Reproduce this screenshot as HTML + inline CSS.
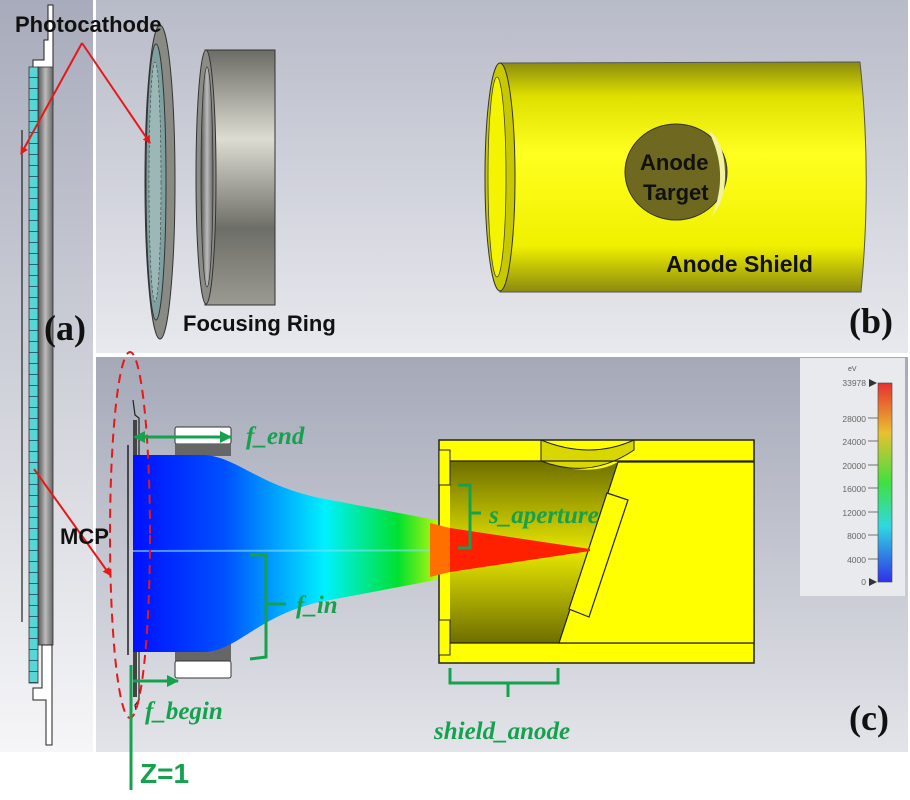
<!DOCTYPE html>
<html><head><meta charset="utf-8"><style>
html,body{margin:0;padding:0;background:#fff;}
svg{display:block;}
.lb{font-family:"Liberation Sans",sans-serif;font-weight:bold;fill:#111;}
.sr{font-family:"Liberation Serif",serif;font-weight:bold;fill:#111;}
.gi{font-family:"Liberation Serif",serif;font-weight:bold;font-style:italic;fill:#16a14e;}
</style></head><body>
<svg width="910" height="800" viewBox="0 0 910 800" xmlns="http://www.w3.org/2000/svg">
<defs>
<linearGradient id="ga" x1="0" y1="0" x2="0" y2="1"><stop offset="0" stop-color="#a8abbb"/><stop offset="0.5" stop-color="#cfd1d9"/><stop offset="1" stop-color="#f6f6f8"/></linearGradient>
<linearGradient id="gb" x1="0" y1="0" x2="0" y2="1"><stop offset="0" stop-color="#b8bbc8"/><stop offset="1" stop-color="#e8e9ee"/></linearGradient>
<linearGradient id="gc" x1="0" y1="0" x2="0" y2="1"><stop offset="0" stop-color="#a5a9b8"/><stop offset="1" stop-color="#e3e4e9"/></linearGradient>
<linearGradient id="beam" x1="133" y1="0" x2="590" y2="0" gradientUnits="userSpaceOnUse">
<stop offset="0" stop-color="#0010ff"/><stop offset="0.2" stop-color="#0050ff"/><stop offset="0.42" stop-color="#00f0ff"/><stop offset="0.58" stop-color="#00e030"/><stop offset="0.7" stop-color="#ffff00"/><stop offset="0.8" stop-color="#ff8000"/><stop offset="1" stop-color="#ff0000"/></linearGradient>
<linearGradient id="cyl" x1="0" y1="0" x2="0" y2="1"><stop offset="0" stop-color="#8a8a10"/><stop offset="0.15" stop-color="#e0e000"/><stop offset="0.4" stop-color="#ffff20"/><stop offset="0.8" stop-color="#f0f000"/><stop offset="1" stop-color="#8a8a10"/></linearGradient>
<linearGradient id="ring" x1="0" y1="0" x2="0" y2="1"><stop offset="0" stop-color="#6c6c66"/><stop offset="0.35" stop-color="#dcdcd2"/><stop offset="0.7" stop-color="#6e6e68"/><stop offset="1" stop-color="#9a9a92"/></linearGradient>
<linearGradient id="inner" x1="0" y1="0" x2="0" y2="1"><stop offset="0" stop-color="#6e6e00"/><stop offset="0.5" stop-color="#e6e600"/><stop offset="1" stop-color="#6e6e00"/></linearGradient>
<linearGradient id="cb" x1="0" y1="0" x2="0" y2="1"><stop offset="0" stop-color="#e83030"/><stop offset="0.25" stop-color="#e8c030"/><stop offset="0.5" stop-color="#40e040"/><stop offset="0.72" stop-color="#30d8e0"/><stop offset="1" stop-color="#3030e8"/></linearGradient>
<linearGradient id="gray" x1="0" y1="0" x2="1" y2="0"><stop offset="0" stop-color="#555"/><stop offset="0.5" stop-color="#bbb"/><stop offset="1" stop-color="#666"/></linearGradient>
<pattern id="tk" width="9" height="11" patternUnits="userSpaceOnUse"><rect width="9" height="11" fill="#58d6d6"/><line x1="0" y1="0.5" x2="9" y2="0.5" stroke="#246" stroke-width="0.8"/></pattern>
<marker id="ar" markerWidth="8" markerHeight="8" refX="7" refY="4" orient="auto" markerUnits="userSpaceOnUse"><path d="M0,0 L8,4 L0,8z" fill="#e81818"/></marker>
<marker id="ag" markerWidth="12" markerHeight="12" refX="11" refY="6" orient="auto" markerUnits="userSpaceOnUse"><path d="M0,0 L12,6 L0,12z" fill="#16a14e"/></marker>
</defs>
<!-- backgrounds -->
<rect x="0" y="0" width="93" height="752" fill="url(#ga)"/>
<rect x="96" y="0" width="812" height="353" fill="url(#gb)"/>
<rect x="96" y="357" width="812" height="395" fill="url(#gc)"/>

<!-- panel a -->
<path d="M48,5 L53,5 L53,105 L43,105 L43,98 L33,98 L33,60 L44,60 L44,40 L48,40z" fill="#fff" stroke="#222" stroke-width="1"/>
<rect x="38" y="67" width="15" height="578" fill="url(#gray)" stroke="#333" stroke-width="0.8"/>
<rect x="29" y="67" width="9" height="616" fill="url(#tk)" stroke="#333" stroke-width="0.8"/>
<line x1="22" y1="130" x2="22" y2="622" stroke="#222" stroke-width="1.2"/>
<path d="M42,645 L52,645 L52,745 L46,745 L46,700 L33,700 L33,688 L42,688z" fill="#fff" stroke="#222" stroke-width="1"/>
<text x="44" y="340" class="sr" font-size="36">(a)</text>

<!-- panel b: focusing ring parts -->
<ellipse cx="160" cy="182" rx="15" ry="157" fill="#8a8a84" stroke="#333" stroke-width="1"/>
<ellipse cx="156" cy="182" rx="10" ry="138" fill="#7fa0a0" stroke="#333" stroke-width="1"/>
<ellipse cx="155" cy="182" rx="6" ry="120" fill="#9bb8b6" stroke="#444" stroke-width="0.6" stroke-dasharray="3 2"/>
<rect x="205" y="50" width="70" height="255" fill="url(#ring)" stroke="#333" stroke-width="1"/>
<ellipse cx="206" cy="177" rx="10" ry="127" fill="#8c8c86" stroke="#333" stroke-width="1"/>
<ellipse cx="207" cy="177" rx="6" ry="110" fill="url(#gray)" stroke="#333" stroke-width="0.8"/>

<!-- anode cylinder -->
<path d="M500,63 L860,62 Q872,177 861,292 L500,292z" fill="url(#cyl)" stroke="#555" stroke-width="1"/>
<ellipse cx="500" cy="177" rx="15" ry="114" fill="#c8c800" stroke="#333" stroke-width="1"/>
<ellipse cx="497" cy="177" rx="9" ry="100" fill="#f4f400" stroke="#444" stroke-width="0.8"/>
<ellipse cx="676" cy="172" rx="51" ry="48" fill="#6e6820" stroke="#333" stroke-width="1"/>
<path d="M708,130 Q730,172 712,216 Q726,200 725,172 Q724,140 708,130z" fill="#f2f2a0"/>
<text x="640" y="170" class="lb" font-size="22">Anode</text>
<text x="643" y="200" class="lb" font-size="22">Target</text>
<text x="666" y="272" class="lb" font-size="23">Anode Shield</text>
<text x="183" y="331" class="lb" font-size="22">Focusing Ring</text>
<text x="849" y="333" class="sr" font-size="36">(b)</text>

<!-- panel c -->
<path d="M133,420 L137,420 L137,697 L133,697z" fill="#444"/>
<line x1="128" y1="445" x2="128" y2="655" stroke="#222" stroke-width="1.5"/>
<path d="M133,400 L135,415 L139,418 L139,700 L135,705 L136,710" fill="none" stroke="#222" stroke-width="1.2"/>
<rect x="175" y="427" width="56" height="17" rx="2" fill="#fff" stroke="#333"/>
<rect x="175" y="444" width="56" height="12" fill="#666"/>
<rect x="175" y="643" width="56" height="18" fill="#666"/>
<rect x="175" y="661" width="56" height="17" rx="2" fill="#fff" stroke="#333"/>
<path d="M133,455 L205,455 C240,458 260,488 330,500 L590,549 L590,551 L330,600 C260,612 240,650 205,652 L133,652z" fill="url(#beam)"/>
<path d="M133,551 L590,550" stroke="#80e0ff" stroke-width="2" opacity="0.6"/>

<!-- anode shield section -->
<rect x="439" y="440" width="315" height="223" fill="#ffff00" stroke="#222" stroke-width="1.5"/>
<path d="M450,461 L541,461 Q590,478 618,462 L559,643 L450,643z" fill="url(#inner)"/>
<path d="M541,440 L541,461 Q590,480 634,450 L634,440 Q590,460 541,440z" fill="#d8d800" stroke="#222" stroke-width="1"/>
<line x1="439" y1="461" x2="754" y2="461" stroke="#222" stroke-width="1.2"/>
<line x1="439" y1="643" x2="754" y2="643" stroke="#222" stroke-width="1.2"/>
<path d="M618,462 L754,462 L754,643 L559,643z" fill="#ffff00" stroke="#222" stroke-width="1.2"/>
<path d="M607,493 L628,500 L589,617 L569,609z" fill="#ffff00" stroke="#222" stroke-width="1.2"/>
<rect x="439" y="450" width="11" height="35" fill="#ffff00" stroke="#222"/>
<rect x="439" y="620" width="11" height="35" fill="#ffff00" stroke="#222"/>
<path d="M450,528 L590,549 L590,551 L450,572z" fill="#ff2000"/>
<path d="M430,523 L450,528 L450,572 L430,577z" fill="#ff7000"/>

<!-- colorbar -->
<rect x="800" y="358" width="105" height="238" fill="#e9eaed"/>
<text x="848" y="371" font-family="Liberation Sans,sans-serif" font-size="7" fill="#555">eV</text>
<rect x="878" y="383" width="14" height="199" fill="url(#cb)" stroke="#444" stroke-width="0.6"/>
<g font-family="Liberation Sans,sans-serif" font-size="8.5" fill="#666" text-anchor="end">
<text x="866" y="386">33978</text><text x="866" y="422">28000</text><text x="866" y="445">24000</text><text x="866" y="469">20000</text><text x="866" y="492">16000</text><text x="866" y="516">12000</text><text x="866" y="539">8000</text><text x="866" y="563">4000</text><text x="866" y="585">0</text>
</g>
<g stroke="#555" stroke-width="0.8">
<line x1="868" y1="418" x2="878" y2="418"/><line x1="868" y1="441" x2="878" y2="441"/><line x1="868" y1="465" x2="878" y2="465"/><line x1="868" y1="488" x2="878" y2="488"/><line x1="868" y1="512" x2="878" y2="512"/><line x1="868" y1="535" x2="878" y2="535"/><line x1="868" y1="559" x2="878" y2="559"/>
</g>
<path d="M869,379 L877,383 L869,387z M869,578 L877,582 L869,586z" fill="#333"/>

<!-- red annotations -->
<ellipse cx="130" cy="535" rx="20" ry="183" fill="none" stroke="#e81818" stroke-width="2" stroke-dasharray="9 6"/>
<line x1="82" y1="43" x2="21" y2="154" stroke="#e81818" stroke-width="2" marker-end="url(#ar)"/>
<line x1="82" y1="43" x2="150" y2="143" stroke="#e81818" stroke-width="2" marker-end="url(#ar)"/>
<line x1="34" y1="469" x2="110" y2="575" stroke="#e81818" stroke-width="2" marker-end="url(#ar)"/>
<text x="15" y="32" class="lb" font-size="22">Photocathode</text>
<text x="60" y="544" class="lb" font-size="22">MCP</text>

<!-- green annotations -->
<g stroke="#16a14e" stroke-width="3" fill="none">
<line x1="131" y1="665" x2="131" y2="790"/>
<line x1="145" y1="437" x2="231" y2="437" marker-end="url(#ag)"/>
<line x1="145" y1="437" x2="135" y2="437"/>
<line x1="133" y1="681" x2="178" y2="681" marker-end="url(#ag)"/>
<path d="M250,555 L266,555 L266,657 L250,659 M266,604 L286,604"/>
<path d="M458,485 L470,485 L470,548 L458,548 M470,513 L481,513"/>
<path d="M450,668 L450,683 L558,683 L558,668 M508,683 L508,697"/>
</g>
<path d="M133,437 L145,431 L145,443z" fill="#16a14e"/>
<text x="246" y="444" class="gi" font-size="25">f_end</text>
<text x="145" y="719" class="gi" font-size="25">f_begin</text>
<text x="296" y="613" class="gi" font-size="25">f_in</text>
<text x="489" y="523" class="gi" font-size="25">s_aperture</text>
<text x="434" y="739" class="gi" font-size="25">shield_anode</text>
<text x="140" y="783" font-family="Liberation Sans,sans-serif" font-weight="bold" font-size="28" fill="#16a14e">Z=1</text>
<text x="849" y="730" class="sr" font-size="36">(c)</text>
</svg>
</body></html>
